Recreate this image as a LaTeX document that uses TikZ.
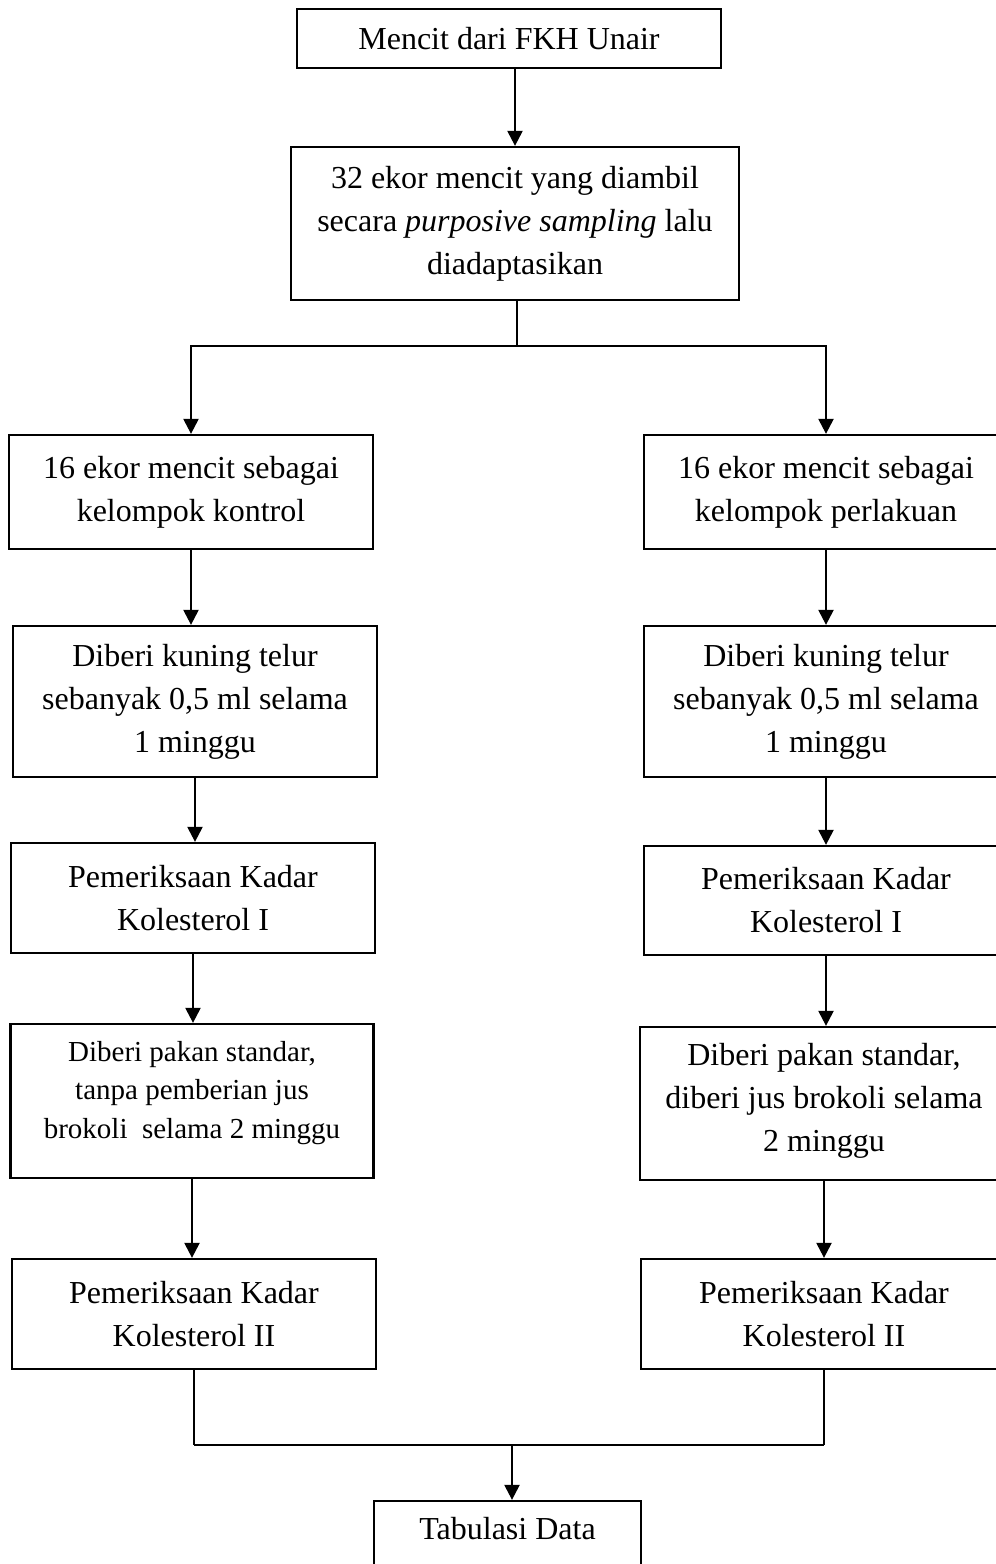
\documentclass[tikz,border=0pt]{standalone}
\usepackage{fontspec}
\setmainfont{Liberation Serif}
\usetikzlibrary{arrows.meta,calc}
\tikzset{
  box/.style={draw, line width=2.3pt, inner sep=0pt, align=center, font=\fontsize{32}{43}\selectfont},
  txt/.style={inner sep=0pt, align=center, font=\fontsize{32}{43}\selectfont},
  smalltxt/.style={inner sep=0pt, align=center, font=\fontsize{29}{38.5}\selectfont},
  arr/.style={line width=2.3pt, -{Triangle[length=15pt,width=15pt]}},
  ln/.style={line width=2.3pt},
  thinln/.style={line width=1.4pt},
}
\begin{document}
\begin{tikzpicture}[x=1pt,y=-1pt]
\useasboundingbox (0,0) rectangle (996,1564);
\clip (0,0) rectangle (996,1564);

% top
\node[box, minimum width=424pt, minimum height=59pt] (T) at (509,38.5) {Mencit dari FKH Unair};
\node[box, minimum width=448pt, minimum height=153pt] (B) at (515,223.5)
  {32 ekor mencit yang diambil\\ secara \textit{purposive sampling} lalu\\ diadaptasikan};

% row 1
\node[box, minimum width=364pt, minimum height=114pt] (L1) at (191,492) {16 ekor mencit sebagai\\ kelompok kontrol};
\node[box, minimum width=364pt, minimum height=114pt] (R1) at (826,492) {16 ekor mencit sebagai\\ kelompok perlakuan};

% row 2
\node[box, minimum width=364pt, minimum height=151pt] (L2) at (195,701.5) {Diberi kuning telur\\ sebanyak 0,5 ml selama\\ 1 minggu};
\node[box, minimum width=364pt, minimum height=151pt] (R2) at (826,701.5) {Diberi kuning telur\\ sebanyak 0,5 ml selama\\ 1 minggu};

% row 3
\node[box, minimum width=364pt, minimum height=110pt] (L3) at (193,898) {Pemeriksaan Kadar\\ Kolesterol I};
\node[box, minimum width=364pt, minimum height=109pt] (R3) at (826,900.5) {Pemeriksaan Kadar\\ Kolesterol I};

% row 4
\node[box, minimum width=363pt, minimum height=154pt] (L4) at (192,1101) {};
\node[smalltxt] (L4t) at ($(L4.center)+(0,-8)$) {Diberi pakan standar,\\ tanpa pemberian jus\\ brokoli\ \ selama 2 minggu};
\node[box, minimum width=368pt, minimum height=153pt] (R4) at (824,1103.5) {};
\node[txt] (R4t) at ($(R4.center)+(0,-3)$) {Diberi pakan standar,\\ diberi jus brokoli selama\\ 2 minggu};

% row 5
\node[box, minimum width=364pt, minimum height=110pt] (L5) at (194,1314) {Pemeriksaan Kadar\\ Kolesterol II};
\node[box, minimum width=366pt, minimum height=110pt] (R5) at (824,1314) {Pemeriksaan Kadar\\ Kolesterol II};

% bottom
\node[box, minimum width=267pt, minimum height=119pt] (D) at (507.5,1560.5) {};
\node[txt] (Dt) at (507.5,1529) {Tabulasi Data};

% connectors
\coordinate (split) at (517,346);
\coordinate (merge) at (512,1445);

\draw[arr] (B.north |- T.south) -- (B.north);
\draw[thinln] (split |- B.south) -- (split);
\draw[arr] (split) -| (L1.north);
\draw[arr] (split) -| (R1.north);

\draw[arr] (L1.south) -- (L1.south |- L2.north);
\draw[arr] (L2.south) -- (L2.south |- L3.north);
\draw[arr] (L3.south) -- (L3.south |- L4.north);
\draw[arr] (L4.south) -- (L4.south |- L5.north);

\draw[arr] (R1.south) -- (R1.south |- R2.north);
\draw[arr] (R2.south) -- (R2.south |- R3.north);
\draw[arr] (R3.south) -- (R3.south |- R4.north);
\draw[arr] (R4.south) -- (R4.south |- R5.north);

\draw[thinln] (L5.south) -- (L5.south |- merge);
\draw[thinln] (R5.south) -- (R5.south |- merge);
\draw[ln] (L5.south |- merge) -- (R5.south |- merge);
\draw[arr] (merge) -- (merge |- D.north);
\end{tikzpicture}
\end{document}
